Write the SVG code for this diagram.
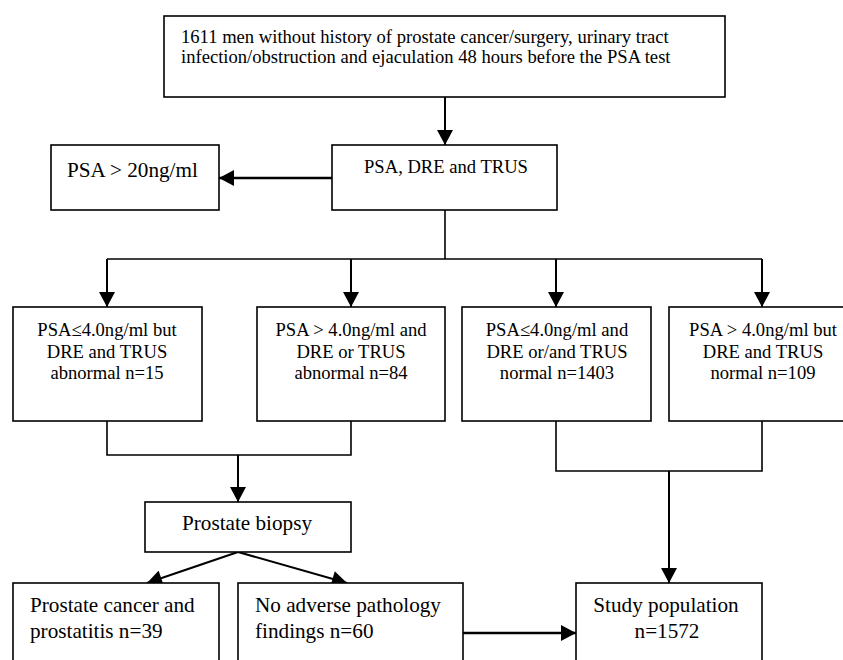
<svg xmlns="http://www.w3.org/2000/svg" width="843" height="660" viewBox="0 0 843 660">
<defs>
<marker id="ah" markerUnits="userSpaceOnUse" markerWidth="16" markerHeight="16" viewBox="0 0 15 16" refX="15" refY="8" orient="auto">
<path d="M0,0 L15,8 L0,16 Z" fill="#000"/>
</marker>
</defs>
<style>
.box{fill:#fff;stroke:#000;stroke-width:1.6}
.t{font-family:"Liberation Serif","Times New Roman",serif;fill:#000}
.s18{font-size:18.6px}
.s20{font-size:21.2px}
.c{text-anchor:middle}
.ln{fill:none;stroke:#000;stroke-width:1.6}
.ar{fill:none;stroke:#000;stroke-width:2;marker-end:url(#ah)}
.ar2{fill:none;stroke:#000;stroke-width:2.6;marker-end:url(#ah)}
</style>
<rect width="843" height="660" fill="#fff"/>
<g id="connectors">
<line class="ar" x1="445" y1="97" x2="445" y2="145"/>
<line class="ar2" x1="332" y1="178" x2="219" y2="178"/>
<polyline class="ln" points="445,210 445,259"/>
<polyline class="ln" points="107,259 762,259"/>
<line class="ar" x1="107" y1="259" x2="107" y2="307"/>
<line class="ar" x1="351" y1="259" x2="351" y2="307"/>
<line class="ar" x1="556" y1="259" x2="556" y2="307"/>
<line class="ar" x1="762" y1="259" x2="762" y2="307"/>
<polyline class="ln" points="107,421 107,455 351,455 351,421"/>
<line class="ar" x1="238" y1="455" x2="238" y2="502"/>
<polyline class="ln" points="556,421 556,471 762,471 762,421"/>
<line class="ar" x1="669" y1="471" x2="669" y2="583"/>
<line class="ar" x1="238" y1="552" x2="147" y2="583"/>
<line class="ar" x1="238" y1="552" x2="347" y2="583"/>
<line class="ar2" x1="463" y1="633" x2="576" y2="633"/>
</g>
<g id="n-start">
<rect class="box" x="164" y="16" width="561" height="81"/>
<text class="t s18" x="181" y="43">1611 men without history of prostate cancer/surgery, urinary tract</text>
<text class="t s18" x="181" y="63">infection/obstruction and ejaculation 48 hours before the PSA test</text>
</g>
<g id="n-screen">
<rect class="box" x="332" y="145" width="225" height="65"/>
<text class="t s18 c" x="446" y="173">PSA, DRE and TRUS</text>
</g>
<g id="n-psa20">
<rect class="box" x="51" y="145" width="168" height="65"/>
<text class="t s20" x="67" y="177">PSA &gt; 20ng/ml</text>
</g>
<g id="n-g1">
<rect class="box" x="13" y="307" width="189" height="114"/>
<text class="t s18 c" x="107" y="336">PSA≤4.0ng/ml but</text>
<text class="t s18 c" x="107" y="358">DRE and TRUS</text>
<text class="t s18 c" x="107" y="379">abnormal n=15</text>
</g>
<g id="n-g2">
<rect class="box" x="257" y="307" width="188" height="114"/>
<text class="t s18 c" x="351" y="336">PSA &gt; 4.0ng/ml and</text>
<text class="t s18 c" x="351" y="358">DRE or TRUS</text>
<text class="t s18 c" x="351" y="379">abnormal n=84</text>
</g>
<g id="n-g3">
<rect class="box" x="462" y="307" width="189" height="114"/>
<text class="t s18 c" x="557" y="336">PSA≤4.0ng/ml and</text>
<text class="t s18 c" x="557" y="358">DRE or/and TRUS</text>
<text class="t s18 c" x="557" y="379">normal n=1403</text>
</g>
<g id="n-g4">
<rect class="box" x="669" y="307" width="190" height="114"/>
<text class="t s18 c" x="763" y="336">PSA &gt; 4.0ng/ml but</text>
<text class="t s18 c" x="763" y="358">DRE and TRUS</text>
<text class="t s18 c" x="763" y="379">normal n=109</text>
</g>
<g id="n-biopsy">
<rect class="box" x="145" y="502" width="206" height="50"/>
<text class="t s20 c" x="247" y="530">Prostate biopsy</text>
</g>
<g id="n-cancer">
<rect class="box" x="13" y="583" width="206" height="90"/>
<text class="t s20" x="30" y="612">Prostate cancer and</text>
<text class="t s20" x="30" y="638">prostatitis n=39</text>
</g>
<g id="n-noadverse">
<rect class="box" x="238" y="583" width="225" height="90"/>
<text class="t s20" x="255" y="612">No adverse pathology</text>
<text class="t s20" x="255" y="638">findings n=60</text>
</g>
<g id="n-study">
<rect class="box" x="576" y="583" width="186" height="90"/>
<text class="t s20 c" x="666" y="612">Study population</text>
<text class="t s20 c" x="667" y="638">n=1572</text>
</g>
</svg>
